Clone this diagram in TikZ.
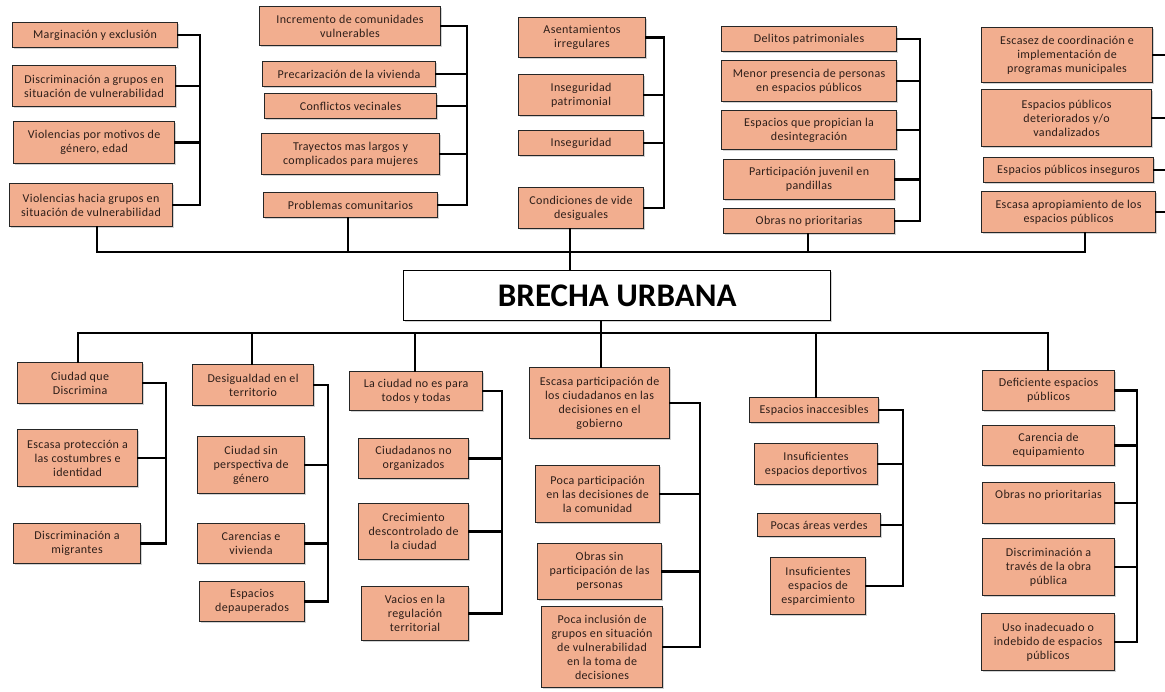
\documentclass[tikz,border=0pt]{standalone}
\usepackage{fontspec}
\setmainfont{Carlito}
\newfontfamily\boxfont[LetterSpace=3]{Carlito}
\usetikzlibrary{shadows}
\definecolor{boxfill}{RGB}{242,174,143}
\definecolor{boxtext}{RGB}{45,30,25}
\tikzset{
  box/.style={draw=black!85, fill=boxfill, line width=1.1pt, inner sep=1pt,
    align=center, anchor=north west, text=boxtext,
    font=\boxfont\fontsize{12}{14}\selectfont,
    drop shadow={shadow xshift=1.2pt, shadow yshift=-1.2pt, opacity=0.35}},
  sz/.style 2 args={minimum width=#1pt, minimum height=#2pt},
  title/.style={draw=black, fill=white, line width=1.4pt, anchor=north west,
    font=\fontsize{33}{38}\selectfont\bfseries,
    drop shadow={shadow xshift=1.5pt, shadow yshift=-1.5pt, opacity=0.35}},
  conn/.style={draw=black, line width=2.3pt, line cap=rect}
}
\begin{document}
\begin{tikzpicture}[x=1pt,y=-1pt]
\useasboundingbox (0,0) rectangle (1165,692);
% ---------- top group 1
\node[box,sz={165}{25}] (t1a) at (12,22) {Marginación y exclusión};
\node[box,sz={163}{41}] (t1b) at (12,65) {Discriminación a grupos en\\situación de vulnerabilidad};
\node[box,sz={161}{42}] (t1c) at (13,121) {Violencias por motivos de\\género, edad};
\node[box,sz={163}{43}] (t1d) at (9,183) {Violencias hacia grupos en\\situación de vulnerabilidad};
% ---------- top group 2
\node[box,sz={181}{39}] (t2a) at (259,6) {Incremento de comunidades\\vulnerables};
\node[box,sz={173}{25}] (t2b) at (262,61) {Precarización de la vivienda};
\node[box,sz={172}{25}] (t2c) at (264,93) {Conflictos vecinales};
\node[box,sz={178}{41}] (t2d) at (261,133) {Trayectos mas largos y\\complicados para mujeres};
\node[box,sz={174}{25}] (t2e) at (263,192) {Problemas comunitarios};
% ---------- top group 3
\node[box,sz={127}{40}] (t3a) at (518,17) {Asentamientos\\irregulares};
\node[box,sz={125}{41}] (t3b) at (518,74) {Inseguridad\\patrimonial};
\node[box,sz={125}{25}] (t3c) at (518,130) {Inseguridad};
\node[box,sz={125}{41}] (t3d) at (518,187) {Condiciones de vide\\desiguales};
% ---------- top group 4
\node[box,sz={175}{25}] (t4a) at (721,26) {Delitos patrimoniales};
\node[box,sz={175}{41}] (t4b) at (721,60) {Menor presencia de personas\\en espacios públicos};
\node[box,sz={175}{39}] (t4c) at (721,110) {Espacios que propician la\\desintegración};
\node[box,sz={171}{40}] (t4d) at (723,159) {Participación juvenil en\\pandillas};
\node[box,sz={171}{25}] (t4e) at (723,208) {Obras no prioritarias};
% ---------- top group 5
\node[box,sz={171}{55}] (t5a) at (981,27) {Escasez de coordinación e\\implementación de\\programas municipales};
\node[box,sz={170}{57}] (t5b) at (981,89) {Espacios públicos\\deteriorados y/o\\vandalizados};
\node[box,sz={170}{25}] (t5c) at (983,157) {Espacios públicos inseguros};
\node[box,sz={174}{41}] (t5d) at (981,191) {Escasa apropiamiento de los\\espacios públicos};
% ---------- centre
\node[title,minimum width=427pt,minimum height=50pt] (br) at (403,270) {BRECHA URBANA};
% ---------- bottom group 1
\node[box,sz={125}{41}] (b1a) at (17,362) {Ciudad que\\Discrimina};
\node[box,sz={120}{57}] (b1b) at (17,429) {Escasa protección a\\las costumbres e\\identidad};
\node[box,sz={127}{40}] (b1c) at (13,523) {Discriminación a\\migrantes};
% ---------- bottom group 2
\node[box,sz={121}{41}] (b2a) at (192,364) {Desigualdad en el\\territorio};
\node[box,sz={107}{57}] (b2b) at (197,436) {Ciudad sin\\perspectiva de\\género};
\node[box,sz={107}{40}] (b2c) at (197,523) {Carencias e\\vivienda};
\node[box,sz={105}{40}] (b2d) at (199,581) {Espacios\\depauperados};
% ---------- bottom group 3
\node[box,sz={133}{39}] (b3a) at (349,371) {La ciudad no es para\\todos y todas};
\node[box,sz={110}{40}] (b3b) at (358,438) {Ciudadanos no\\organizados};
\node[box,sz={110}{56}] (b3c) at (358,503) {Crecimiento\\descontrolado de\\la ciudad};
\node[box,sz={107}{54}] (b3d) at (361,586) {Vacios en la\\regulación\\territorial};
% ---------- bottom group 4
\node[box,sz={140}{71}] (b4a) at (529,367) {Escasa participación de\\los ciudadanos en las\\decisiones en el\\gobierno};
\node[box,sz={124}{57}] (b4b) at (535,465) {Poca participación\\en las decisiones de\\la comunidad};
\node[box,sz={124}{56}] (b4c) at (537,543) {Obras sin\\participación de las\\personas};
\node[box,sz={121}{81}] (b4d) at (541,606) {Poca inclusión de\\grupos en situación\\de vulnerabilidad\\en la toma de\\decisiones};
% ---------- bottom group 5
\node[box,sz={129}{25}] (b5a) at (749,397) {Espacios inaccesibles};
\node[box,sz={123}{41}] (b5b) at (754,443) {Insuficientes\\espacios deportivos};
\node[box,sz={123}{23}] (b5c) at (757,513) {Pocas áreas verdes};
\node[box,sz={95}{57}] (b5d) at (770,557) {Insuficientes\\espacios de\\esparcimiento};
% ---------- bottom group 6
\node[box,sz={132}{40}] (b6a) at (982,370) {Deficiente espacios\\públicos};
\node[box,sz={132}{40}] (b6b) at (982,425) {Carencia de\\equipamiento};
\node[box,sz={132}{41}] (b6c) at (982,482) {Obras no prioritarias\\\strut};
\node[box,sz={132}{57}] (b6d) at (982,538) {Discriminación a\\través de la obra\\pública};
\node[box,sz={133}{57}] (b6e) at (981,613) {Uso inadecuado o\\indebido de espacios\\públicos};
% ---------- coordinates
\coordinate (k1) at (200,0);
\coordinate (k2) at (467,0);
\coordinate (k3) at (664,0);
\coordinate (k4) at (920,0);
\coordinate (k5) at (1165,0);
\coordinate (tbL) at (97,252);
\coordinate (s2) at (348,252);
\coordinate (s3) at (570,252);
\coordinate (s4) at (808,252);
\coordinate (tbR) at (1085,252);
\coordinate (m1) at (166,0);
\coordinate (m2) at (328,0);
\coordinate (m3) at (502,0);
\coordinate (m4) at (700,0);
\coordinate (m5) at (903,0);
\coordinate (m6) at (1137,0);
\coordinate (bbL) at (78,333);
\coordinate (u2) at (252,333);
\coordinate (u3) at (415,333);
\coordinate (u4) at (601,333);
\coordinate (u5) at (816,333);
\coordinate (bbR) at (1048,333);
% ---------- top collectors
\draw[conn] (t1a.east) -| (t1d.east -| k1) -- (t1d.east);
\draw[conn] (t1b.east) -- (t1b.east -| k1) (t1c.east) -- (t1c.east -| k1);
\draw[conn] (t2a.east) -| (t2e.east -| k2) -- (t2e.east);
\draw[conn] (t2b.east) -- (t2b.east -| k2) (t2c.east) -- (t2c.east -| k2) (t2d.east) -- (t2d.east -| k2);
\draw[conn] (t3a.east) -| (t3d.east -| k3) -- (t3d.east);
\draw[conn] (t3b.east) -- (t3b.east -| k3) (t3c.east) -- (t3c.east -| k3);
\draw[conn] (t4a.east) -| (t4e.east -| k4) -- (t4e.east);
\draw[conn] (t4b.east) -- (t4b.east -| k4) (t4c.east) -- (t4c.east -| k4) (t4d.east) -- (t4d.east -| k4);
\draw[conn] (t5a.east) -- (t5a.east -| k5) (t5b.east) -- (t5b.east -| k5) (t5c.east) -- (t5c.east -| k5) (t5d.east) -- (t5d.east -| k5);
% ---------- top bus
\draw[conn] (t1d.south -| tbL) -- (tbL) -- (tbR) -- (t5d.south -| tbR);
\draw[conn] (t2e.south -| s2) -- (s2);
\draw[conn] (t4e.south -| s4) -- (s4);
\draw[conn] (t3d.south -| s3) -- (br.north -| s3);
% ---------- bottom bus
\draw[conn] (b1a.north -| bbL) -- (bbL) -- (bbR) -- (b6a.north -| bbR);
\draw[conn] (u2) -- (b2a.north -| u2);
\draw[conn] (u3) -- (b3a.north -| u3);
\draw[conn] (br.south -| u4) -- (b4a.north -| u4);
\draw[conn] (u5) -- (b5a.north -| u5);
% ---------- bottom collectors
\draw[conn] (b1a.east) -| (b1c.east -| m1) -- (b1c.east);
\draw[conn] (b1b.east) -- (b1b.east -| m1);
\draw[conn] (b2a.east) -| (b2d.east -| m2) -- (b2d.east);
\draw[conn] (b2b.east) -- (b2b.east -| m2) (b2c.east) -- (b2c.east -| m2);
\draw[conn] (b3a.east) -| (b3d.east -| m3) -- (b3d.east);
\draw[conn] (b3b.east) -- (b3b.east -| m3) (b3c.east) -- (b3c.east -| m3);
\draw[conn] (b4a.east) -| (b4d.east -| m4) -- (b4d.east);
\draw[conn] (b4b.east) -- (b4b.east -| m4) (b4c.east) -- (b4c.east -| m4);
\draw[conn] (b5a.east) -| (b5d.east -| m5) -- (b5d.east);
\draw[conn] (b5b.east) -- (b5b.east -| m5) (b5c.east) -- (b5c.east -| m5);
\draw[conn] (b6a.east) -| (b6e.east -| m6) -- (b6e.east);
\draw[conn] (b6b.east) -- (b6b.east -| m6) (b6c.east) -- (b6c.east -| m6) (b6d.east) -- (b6d.east -| m6);
\end{tikzpicture}
\end{document}
